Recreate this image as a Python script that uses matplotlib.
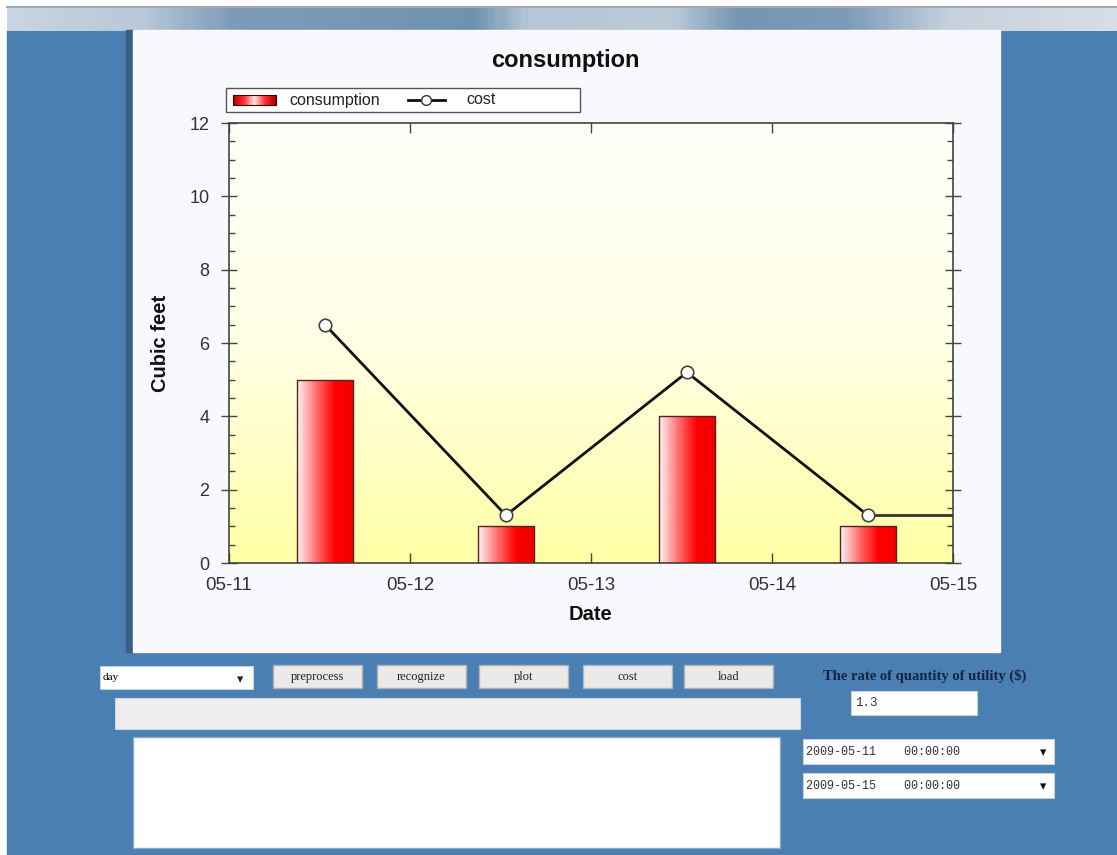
import numpy as np
import matplotlib
matplotlib.use("Agg")
import matplotlib.pyplot as plt
import matplotlib.dates as mdates
from matplotlib.colors import LinearSegmentedColormap
from matplotlib.patches import Rectangle

# chart data
days = ["2009-05-11", "2009-05-12", "2009-05-13", "2009-05-14"]
consumption = [5, 1, 4, 1]
cost = [6.5, 1.3, 5.2, 1.3]
x_start, x_end = "2009-05-11", "2009-05-15"

# form widgets
buttons = ["preprocess", "recognize", "plot", "cost", "load"]
combo_text = "day"
rate_label = "The rate of quantity of utility ($)"
rate_value = "1.3"
date_from = "2009-05-11    00:00:00"
date_to = "2009-05-15    00:00:00"

W, H = 1117, 855
BLUE = "#4A7FB3"

fig = plt.figure(figsize=(W / 100, H / 100), dpi=100)
fig.patch.set_facecolor("white")

# background canvas in pixel coordinates
bg = fig.add_axes([0, 0, 1, 1], zorder=-1)
bg.set_xlim(0, W)
bg.set_ylim(H, 0)
bg.axis("off")

bg.add_patch(Rectangle((7, 30), W - 7, H - 30, color=BLUE))

# window title bar
bar_cmap = LinearSegmentedColormap.from_list(
    "bar", [(0, "#C9D5E0"), (0.12, "#B8C8D8"), (0.2, "#7E9CBA"), (0.42, "#6F92B3"),
            (0.47, "#B6C6D6"), (0.6, "#BCCAD8"), (0.66, "#7595B5"), (0.76, "#7D9BB9"),
            (0.85, "#C5D1DD"), (1, "#D8DEE6")])
bg.imshow(np.linspace(0, 1, 300).reshape(1, -1), cmap=bar_cmap, aspect="auto",
          extent=(7, W, 31, 8), zorder=1)
bg.plot([7, W], [7.5, 7.5], color="#8C96A0", lw=1.2, zorder=2)

# chart panel with shadow
bg.add_patch(Rectangle((126, 30), 7, 622, color="#3A5F86", zorder=1))
bg.add_patch(Rectangle((133, 30), 867, 622, color="#F8F9FD", zorder=2))

# widgets row
bg.add_patch(Rectangle((100, 666), 153, 23, facecolor="white", edgecolor="#C8D0D8", lw=0.8))
bg.text(103, 677.5, combo_text, fontsize=8, family="Liberation Serif", va="center")
bg.text(240, 680, "\u25be", fontsize=9, va="center", ha="center", color="#222222")

btn_x = [273, 377, 479, 583, 684]
for bx, label in zip(btn_x, buttons):
    edge = "#9FB8CC" if label == "cost" else "#B0B0B0"
    bg.add_patch(Rectangle((bx, 665), 89, 23, facecolor="#ECEAE8", edgecolor=edge, lw=1))
    bg.text(bx + 44.5, 676.5, label, fontsize=9, family="Liberation Serif",
            ha="center", va="center", color="#222222")

bg.add_patch(Rectangle((115, 698), 685, 31, facecolor="#EFEEEE", edgecolor="#D0D4D8", lw=0.8))
bg.add_patch(Rectangle((133, 737), 647, 111, facecolor="white", edgecolor="#90A8BE", lw=1))

bg.text(925, 676, rate_label, fontsize=10.5, family="Liberation Serif", weight="bold",
        color="#16243E", ha="center", va="center")
bg.add_patch(Rectangle((851, 691), 126, 24, facecolor="white", edgecolor="#C8D0D8", lw=0.8))
bg.text(855, 703, rate_value, fontsize=9, family="Liberation Mono", va="center", color="#333333")

for cy, txt in [(739, date_from), (773, date_to)]:
    bg.add_patch(Rectangle((803, cy), 251, 25, facecolor="white", edgecolor="#C8D0D8", lw=0.8))
    bg.text(806, cy + 12.5, txt, fontsize=8.5, family="Liberation Mono", va="center", color="#333333")
    bg.text(1043, cy + 14, "\u25be", fontsize=9, va="center", ha="center", color="#111111")

# chart title and legend
bg.text(565, 60, "consumption", fontsize=17, weight="bold", family="Liberation Sans",
        ha="center", va="center", color="#111111", zorder=3)
bg.add_patch(Rectangle((226, 88), 354, 24, facecolor="white", edgecolor="#555555", lw=1, zorder=3))
sw_cmap = LinearSegmentedColormap.from_list("sw", ["#B00000", "#FF3030", "#FFE6E6", "#FF3030", "#B00000"])
bg.imshow(np.linspace(0, 1, 100).reshape(1, -1), cmap=sw_cmap, aspect="auto",
          extent=(233, 276, 105, 95), zorder=4)
bg.add_patch(Rectangle((233, 95), 43, 10, fill=False, edgecolor="#400000", lw=0.8, zorder=5))
bg.text(289, 100, "consumption", fontsize=11.5, family="Liberation Sans", va="center",
        color="#222222", zorder=4)
bg.plot([408, 445], [100, 100], color="#111111", lw=2, zorder=4)
bg.plot([426], [100], marker="o", ms=7, mfc="white", mec="#333333", zorder=5)
bg.text(466, 100, "cost", fontsize=11.5, family="Liberation Sans", va="center",
        color="#222222", zorder=4)

# chart axes
ax = fig.add_axes([229 / W, 1 - 563 / H, (953 - 229) / W, (563 - 123) / H], zorder=2)
x0, x1 = mdates.datestr2num(x_start), mdates.datestr2num(x_end)
xd = mdates.datestr2num(days) + 0.53

yellow = LinearSegmentedColormap.from_list("yl", ["#FFFFA6", "#FFFFE6", "#FFFFFB"])
ax.imshow(np.linspace(0, 1, 256).reshape(-1, 1), cmap=yellow, aspect="auto", origin="lower",
          extent=(0, 1, 0, 1), transform=ax.transAxes, zorder=0)

red = LinearSegmentedColormap.from_list("rd", ["#FFF4F4", "#FF7070", "#FF0000", "#F00000"])
bars = ax.bar(xd, consumption, width=0.31, color="none", edgecolor="#5A2020", lw=1, zorder=3)
for b in bars:
    img = ax.imshow(np.linspace(0, 1, 100).reshape(1, -1), cmap=red, aspect="auto",
                    extent=(b.get_x(), b.get_x() + b.get_width(), 0, b.get_height()), zorder=2)
    img.set_clip_path(b)

ax.plot(xd, cost, color="#111111", lw=2, zorder=4)
ax.plot([xd[-1], x1], [cost[-1], cost[-1]], color="#333333", lw=2, zorder=4)
ax.plot(xd, cost, ls="none", marker="o", ms=9, mfc="white", mec="#444444", mew=1.2, zorder=5)

ax.set_xlim(x0, x1)
ax.set_ylim(0, 12)
ax.xaxis.set_major_locator(mdates.DayLocator())
ax.xaxis.set_major_formatter(mdates.DateFormatter("%m-%d"))
ax.set_yticks(np.arange(0, 13, 2))
ax.set_yticks(np.arange(0, 12.01, 0.5), minor=True)
ax.tick_params(axis="x", direction="in", top=True, length=7, width=1, color="#444444",
               labelsize=13.5, labelcolor="#333333", pad=10)
ax.tick_params(axis="y", which="major", direction="inout", right=True, length=12, width=1,
               color="#444444", labelsize=13, labelcolor="#333333", pad=8)
ax.tick_params(axis="y", which="minor", direction="in", right=True, length=4, width=1,
               color="#444444")
for lab in ax.get_xticklabels() + ax.get_yticklabels():
    lab.set_family("Liberation Sans")
for s in ax.spines.values():
    s.set_color("#444444")
    s.set_linewidth(1.2)

ax.set_xlabel("Date", fontsize=14.5, weight="bold", family="Liberation Sans", labelpad=8,
              color="#111111")
ax.set_ylabel("Cubic feet", fontsize=14.5, weight="bold", family="Liberation Sans", labelpad=14,
              color="#111111")

fig.savefig("out.png", dpi=100)
